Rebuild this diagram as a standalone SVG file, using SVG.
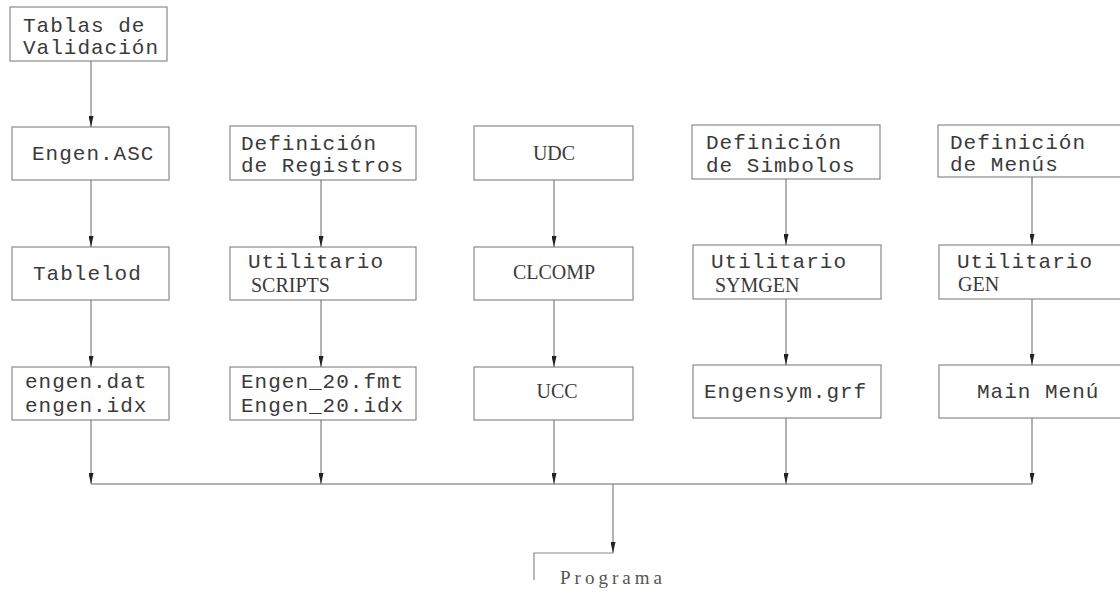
<svg xmlns="http://www.w3.org/2000/svg" width="1120" height="593" viewBox="0 0 1120 593">
<defs>
<style>
.box{fill:#fff;stroke:#8a8a8a;stroke-width:1.2}
.t{font-family:"Liberation Mono","Courier New",monospace;font-size:21px;letter-spacing:1px;fill:#3a3a3a}
.s{font-family:"Liberation Serif","Times New Roman",serif;font-size:20px;fill:#3a3a3a}
.p{font-family:"Liberation Serif","Times New Roman",serif;font-size:19px;letter-spacing:4px;fill:#555}
.c{fill:none;stroke:#666;stroke-width:1}
</style>
<marker id="ah" markerUnits="userSpaceOnUse" viewBox="0 0 11 5" refX="11" refY="2.5" markerWidth="11" markerHeight="5" orient="auto">
<path d="M0,0 L11,2.5 L0,5 z" fill="#222"/>
</marker>
</defs>
<rect width="1120" height="593" fill="#fff"/>

<g id="tablas">
<rect class="box" x="10" y="7" width="157" height="54"/>
<text class="t" x="23" y="32">Tablas de</text>
<text class="t" x="23" y="54">Validación</text>
</g>
<g id="engenasc">
<rect class="box" x="12" y="127" width="157" height="53"/>
<text class="t" x="32" y="160">Engen.ASC</text>
</g>
<g id="defregistros">
<rect class="box" x="230" y="126" width="186" height="54"/>
<text class="t" x="241" y="150">Definición</text>
<text class="t" x="241" y="172" letter-spacing="1.8">de Registros</text>
</g>
<g id="udc">
<rect class="box" x="474" y="126" width="159" height="54"/>
<text class="s" x="554" y="160" text-anchor="middle">UDC</text>
</g>
<g id="defsimbolos">
<rect class="box" x="692" y="125" width="188" height="54"/>
<text class="t" x="706" y="149">Definición</text>
<text class="t" x="706" y="172">de Simbolos</text>
</g>
<g id="defmenus">
<rect class="box" x="938" y="125" width="190" height="52"/>
<text class="t" x="950" y="149">Definición</text>
<text class="t" x="950" y="171">de Menús</text>
</g>

<g id="tablelod">
<rect class="box" x="12" y="247" width="157" height="53"/>
<text class="t" x="33" y="280">Tablelod</text>
</g>
<g id="scripts">
<rect class="box" x="230" y="247" width="186" height="53"/>
<text class="t" x="248" y="268">Utilitario</text>
<text class="s" x="251" y="292">SCRIPTS</text>
</g>
<g id="clcomp">
<rect class="box" x="474" y="247" width="159" height="53"/>
<text class="s" x="554" y="279" text-anchor="middle">CLCOMP</text>
</g>
<g id="symgen">
<rect class="box" x="693" y="245" width="188" height="54"/>
<text class="t" x="711" y="268">Utilitario</text>
<text class="s" x="715" y="292">SYMGEN</text>
</g>
<g id="gen">
<rect class="box" x="939" y="245" width="190" height="54"/>
<text class="t" x="957" y="268">Utilitario</text>
<text class="s" x="958" y="291">GEN</text>
</g>

<g id="engendat">
<rect class="box" x="12" y="367" width="157" height="53"/>
<text class="t" x="25" y="388">engen.dat</text>
<text class="t" x="25" y="412">engen.idx</text>
</g>
<g id="engen20">
<rect class="box" x="230" y="367" width="186" height="53"/>
<text class="t" x="241" y="388">Engen_20.fmt</text>
<text class="t" x="241" y="412">Engen_20.idx</text>
</g>
<g id="ucc">
<rect class="box" x="474" y="367" width="159" height="53"/>
<text class="s" x="557" y="398" text-anchor="middle">UCC</text>
</g>
<g id="engensym">
<rect class="box" x="693" y="365" width="188" height="53"/>
<text class="t" x="704" y="398">Engensym.grf</text>
</g>
<g id="mainmenu">
<rect class="box" x="939" y="365" width="190" height="53"/>
<text class="t" x="977" y="398">Main Menú</text>
</g>

<g id="programa">
<path class="box" fill="none" d="M534,580 V553 H613"/>
<text class="p" x="560" y="584">Programa</text>
</g>

<g id="connectors">
<line class="c" x1="91" y1="61" x2="91" y2="127" marker-end="url(#ah)"/>
<line class="c" x1="91" y1="180" x2="91" y2="247" marker-end="url(#ah)"/>
<line class="c" x1="91" y1="300" x2="91" y2="367" marker-end="url(#ah)"/>
<line class="c" x1="91" y1="420" x2="91" y2="484" marker-end="url(#ah)"/>
<line class="c" x1="321" y1="180" x2="321" y2="247" marker-end="url(#ah)"/>
<line class="c" x1="321" y1="300" x2="321" y2="367" marker-end="url(#ah)"/>
<line class="c" x1="321" y1="420" x2="321" y2="484" marker-end="url(#ah)"/>
<line class="c" x1="554" y1="180" x2="554" y2="247" marker-end="url(#ah)"/>
<line class="c" x1="554" y1="300" x2="554" y2="367" marker-end="url(#ah)"/>
<line class="c" x1="554" y1="420" x2="554" y2="484" marker-end="url(#ah)"/>
<line class="c" x1="786" y1="179" x2="786" y2="245" marker-end="url(#ah)"/>
<line class="c" x1="786" y1="299" x2="786" y2="365" marker-end="url(#ah)"/>
<line class="c" x1="786" y1="418" x2="786" y2="484" marker-end="url(#ah)"/>
<line class="c" x1="1032" y1="177" x2="1032" y2="245" marker-end="url(#ah)"/>
<line class="c" x1="1032" y1="299" x2="1032" y2="365" marker-end="url(#ah)"/>
<line class="c" x1="1032" y1="418" x2="1032" y2="484" marker-end="url(#ah)"/>
<line class="c" x1="91" y1="484" x2="1032" y2="484" stroke="#999"/>
<line class="c" x1="613" y1="484" x2="613" y2="553" marker-end="url(#ah)"/>
</g>
</svg>
